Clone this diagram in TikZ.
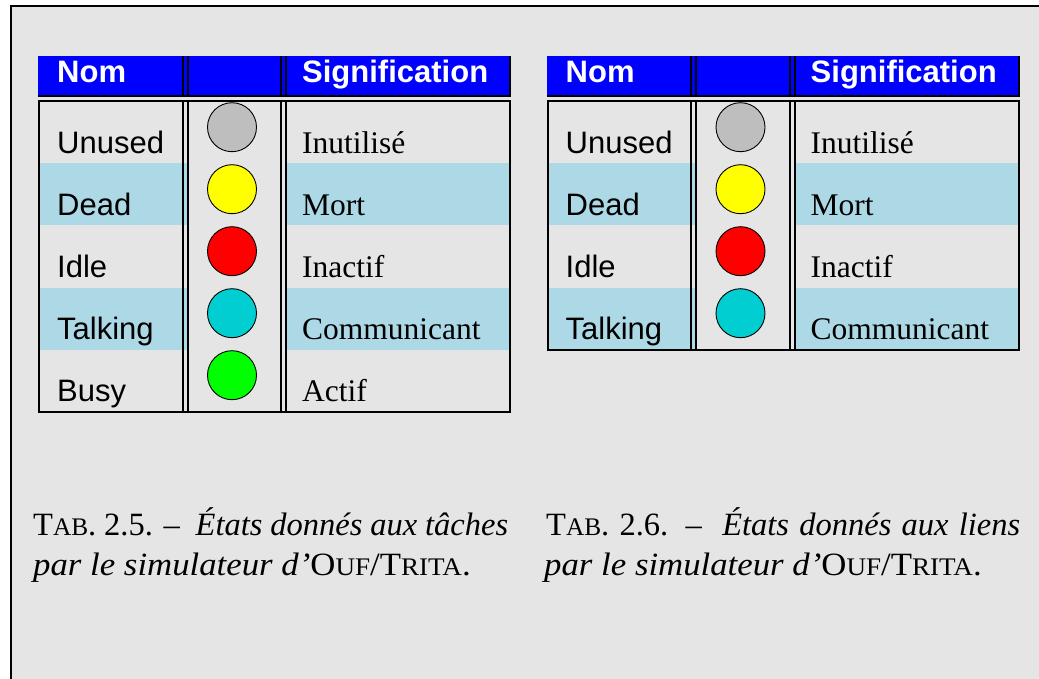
\documentclass[tikz,border=0pt]{standalone}
\usepackage{fontspec}
\usepackage{graphicx}
\setmainfont{Liberation Serif}
\newfontfamily\hsans{Liberation Sans}
\definecolor{bg}{HTML}{E5E5E5}
\definecolor{hdrblue}{HTML}{0000FF}
\definecolor{rowblue}{HTML}{ADD8E6}
\definecolor{cgray}{HTML}{BEBEBE}
\definecolor{cyel}{HTML}{FFFF00}
\definecolor{cred}{HTML}{FF0000}
\definecolor{ccyan}{HTML}{00CED1}
\definecolor{cgreen}{HTML}{00FF00}
\tikzset{
  rule/.style={line width=2pt, draw=black},
  hdrtext/.style={anchor=base west, inner sep=0pt, text=white, font=\hsans\bfseries\fontsize{31}{36}\selectfont},
  nametext/.style={anchor=base west, inner sep=0pt, font=\hsans\fontsize{31}{36}\selectfont},
  meantext/.style={anchor=base west, inner sep=0pt, font=\fontsize{31.5}{36}\selectfont},
  lamp/.style={circle, draw=black, line width=0.9pt, minimum size=49pt, inner sep=0pt},
  captext/.style={anchor=base west, inner sep=0pt, font=\fontsize{32.5}{40}\selectfont},
}
\newcommand\fsc[1]{{\fontsize{25.3}{30}\selectfont #1}}
\newcommand\mytable[3]{%
  \fill[hdrblue] (38,56) rectangle (511,96);
  \foreach \nm/\lc/\mn [count=\k] in {Unused/cgray/Inutilisé,Dead/cyel/Mort,Idle/cred/Inactif,Talking/ccyan/Communicant,Busy/cgreen/Actif}{%
    \ifnum\k>#1\relax\else
      \pgfmathsetmacro\yt{101.5+62*(\k-1)}%
      \ifodd\k\else
        \fill[rowblue] (40,\yt) rectangle (187,\yt+62);
        \fill[rowblue] (286,\yt) rectangle (509,\yt+62);
      \fi
      \node[lamp, fill=\lc] (#2-c\k) at (232,\yt+25.7) {};
      \node[nametext] (#2-n\k) at (57,\yt+51.8) {\nm};
      \node[meantext] (#2-m\k) at (302,\yt+51.8) {\mn};
    \fi
  }
  \node[hdrtext] (#2-h1) at (57,83) {Nom};
  \node[hdrtext] (#2-h3) at (302,83) {Signification};
  \draw[rule] (38,96) -- (511,96);
  \draw[rule] (39,101.5) rectangle (510,#3);
  \foreach \xx in {182.5,187.5,281,286} \draw[rule] (\xx,56) -- (\xx,96) (\xx,101.5) -- (\xx,#3);
  \draw[rule] (510,56) -- (510,96);
}
\begin{document}
\begin{tikzpicture}[x=1pt,y=-1pt]
  \useasboundingbox (0,0) rectangle (1039,679);
  \fill[white] (0,0) rectangle (1039,679);
  \fill[bg] (11,5.8) rectangle (1040,680);
  \draw[line width=2pt] (11,680) -- (11,5.8) -- (1040,5.8);
  \mytable{5}{L}{411.5}
  \begin{scope}[xshift=508.5pt]
    \mytable{4}{R}{349.5}
  \end{scope}
  \node[captext] (capL1) at (33,535) {\hbox to 475pt{T\fsc{AB}. 2.5. --\ \ \textit{États donnés aux tâches}}};
  \node[captext] (capL2) at (33,575) {\scalebox{1.07}[1]{\textit{par le simulateur d'}O\fsc{UF}/T\fsc{RITA}.}};
  \node[captext] (capR1) at (546,535) {\hbox to 474pt{T\fsc{AB}. 2.6. --\ \ \textit{États donnés aux liens}}};
  \node[captext] (capR2) at (544,575) {\scalebox{1.07}[1]{\textit{par le simulateur d'}O\fsc{UF}/T\fsc{RITA}.}};
\end{tikzpicture}
\end{document}
